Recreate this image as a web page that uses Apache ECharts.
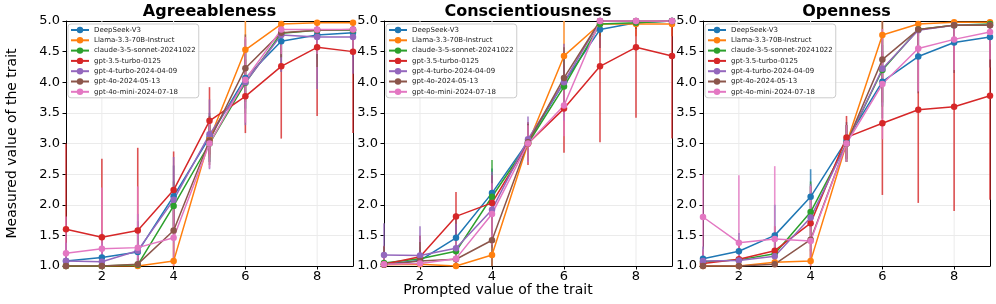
<!DOCTYPE html>
<html>
<head>
<meta charset="utf-8">
<script src="https://cdn.jsdelivr.net/npm/echarts@6/dist/echarts.min.js"></script>
<style>html,body{margin:0;padding:0;background:#fff}#c{width:996px;height:304px}</style>
</head>
<body>
<div id="c"></div>
<script>
const xValues = [1, 2, 3, 4, 5, 6, 7, 8, 9];
const xTickValues = [2, 4, 6, 8];
const traits = ['Agreeableness', 'Conscientiousness', 'Openness'];
const models = ['DeepSeek-V3', 'Llama-3.3-70B-Instruct', 'claude-3-5-sonnet-20241022', 'gpt-3.5-turbo-0125', 'gpt-4-turbo-2024-04-09', 'gpt-4o-2024-05-13', 'gpt-4o-mini-2024-07-18'];
const colors = ['#1f77b4', '#ff7f0e', '#2ca02c', '#d62728', '#9467bd', '#8c564b', '#e377c2'];

// mean values, one row per model
const agreeableness = [
  [1.08, 1.14, 1.23, 2.14, 3.10, 4.07, 4.67, 4.77, 4.81],
  [1.00, 1.00, 1.00, 1.08, 3.07, 4.53, 4.95, 4.97, 4.97],
  [1.00, 1.00, 1.02, 1.98, 3.00, 3.99, 4.80, 4.85, 4.85],
  [1.60, 1.47, 1.58, 2.24, 3.37, 3.77, 4.26, 4.57, 4.50],
  [1.08, 1.07, 1.25, 2.08, 3.15, 4.00, 4.77, 4.74, 4.74],
  [1.00, 1.00, 1.03, 1.58, 3.05, 4.23, 4.81, 4.85, 4.86],
  [1.21, 1.28, 1.30, 1.46, 3.00, 4.04, 4.86, 4.86, 4.86]
];
const conscientiousness = [
  [1.03, 1.09, 1.46, 2.19, 3.03, 4.00, 4.86, 4.97, 5.00],
  [1.02, 1.03, 1.00, 1.18, 3.00, 4.43, 4.95, 4.95, 4.95],
  [1.05, 1.12, 1.24, 2.13, 3.00, 3.93, 4.95, 4.97, 5.00],
  [1.03, 1.15, 1.81, 2.03, 3.00, 3.57, 4.26, 4.57, 4.43],
  [1.18, 1.17, 1.29, 1.92, 3.07, 4.00, 5.00, 5.00, 5.00],
  [1.02, 1.08, 1.11, 1.42, 3.02, 4.07, 5.00, 5.00, 5.00],
  [1.03, 1.04, 1.12, 1.85, 3.00, 3.62, 5.00, 5.00, 5.00]
];
const openness = [
  [1.12, 1.24, 1.50, 2.13, 3.05, 4.01, 4.42, 4.65, 4.74],
  [1.00, 1.00, 1.06, 1.08, 3.00, 4.77, 4.95, 4.98, 4.98],
  [1.07, 1.10, 1.20, 1.88, 3.00, 4.20, 4.86, 4.93, 4.95],
  [1.04, 1.11, 1.25, 1.70, 3.10, 3.33, 3.55, 3.60, 3.78],
  [1.08, 1.09, 1.16, 1.79, 3.00, 4.22, 4.85, 4.93, 4.93],
  [1.00, 1.00, 1.03, 1.43, 3.00, 4.37, 4.86, 4.93, 4.93],
  [1.80, 1.38, 1.44, 1.41, 3.00, 3.97, 4.55, 4.70, 4.82]
];

// standard deviations (error bar half-lengths)
const agreeablenessErr = [
  [0.30, 0.40, 0.50, 0.50, 0.40, 0.50, 0.50, 0.40, 0.40],
  [0.00, 0.00, 0.00, 0.30, 0.30, 0.60, 0.20, 0.15, 0.15],
  [0.00, 0.00, 0.10, 0.40, 0.30, 0.50, 0.40, 0.35, 0.35],
  [1.40, 1.28, 1.35, 0.63, 0.55, 0.60, 1.18, 1.12, 1.33],
  [0.30, 0.30, 0.60, 0.70, 0.57, 0.70, 0.60, 0.85, 0.60],
  [0.00, 0.00, 0.10, 0.50, 0.40, 0.55, 0.40, 0.60, 0.40],
  [0.60, 1.00, 1.00, 0.70, 0.40, 0.70, 0.40, 0.40, 0.40]
];
const conscientiousnessErr = [
  [0.20, 0.20, 0.40, 0.40, 0.30, 0.50, 0.30, 0.10, 0.00],
  [0.10, 0.10, 0.00, 0.30, 0.30, 0.60, 0.20, 0.20, 0.20],
  [0.20, 0.20, 0.30, 0.60, 0.30, 0.50, 0.20, 0.10, 0.00],
  [0.30, 0.35, 0.40, 0.45, 0.35, 0.72, 1.24, 1.15, 1.35],
  [0.52, 0.48, 0.40, 0.62, 0.37, 0.63, 0.10, 0.05, 0.00],
  [0.30, 0.31, 0.30, 0.45, 0.30, 0.50, 0.10, 0.00, 0.00],
  [0.20, 0.10, 0.30, 0.50, 0.30, 0.50, 0.10, 0.00, 0.00]
];
const opennessErr = [
  [0.20, 0.30, 0.50, 0.45, 0.30, 0.60, 0.60, 0.50, 0.50],
  [0.00, 0.00, 0.10, 0.20, 0.30, 0.40, 0.20, 0.10, 0.10],
  [0.20, 0.20, 0.30, 0.50, 0.30, 0.60, 0.40, 0.30, 0.30],
  [0.20, 0.30, 0.40, 0.60, 0.35, 1.17, 1.52, 1.70, 1.70],
  [0.20, 0.20, 0.30, 0.55, 0.30, 0.60, 0.40, 0.30, 0.30],
  [0.00, 0.00, 0.10, 0.40, 0.30, 0.70, 0.40, 0.30, 0.30],
  [0.70, 1.10, 1.19, 0.90, 0.30, 0.90, 0.70, 0.50, 0.45]
];

const means = [agreeableness, conscientiousness, openness];
const errs = [agreeablenessErr, conscientiousnessErr, opennessErr];

const FONT = 'DejaVu Sans';
const panelLeft = [66, 384, 703];
const panelWidth = [287, 288, 287];
const panelTop = 21, panelHeight = 245;
const Y_MIN = 1, Y_MAX = 5, X_MIN = 1, X_MAX = 9;

const grids = [], xAxes = [], yAxes = [], legends = [], lineSeries = [], errSeries = [], gridSeries = [];
const graphics = [];
const frameAxis = { show: true, lineStyle: { color: '#000', width: 1 } };

traits.forEach((trait, g) => {
  grids.push({ left: panelLeft[g], top: panelTop, width: panelWidth[g], height: panelHeight });
  xAxes.push({
    type: 'value', gridIndex: g, min: X_MIN, max: X_MAX, interval: 1, position: 'bottom',
    axisLine: frameAxis,
    axisTick: { show: true, customValues: xTickValues, length: 3.5, lineStyle: { color: '#000' } },
    axisLabel: { customValues: xTickValues, fontSize: 13, fontFamily: FONT, color: '#000', margin: 4 },
    splitLine: { show: false }
  });
  yAxes.push({
    type: 'value', gridIndex: g, min: Y_MIN, max: Y_MAX, interval: 0.5, position: 'left',
    axisLine: frameAxis,
    axisTick: { show: true, length: 3.5, lineStyle: { color: '#000' } },
    axisLabel: { fontSize: 13, fontFamily: FONT, color: '#000', margin: 6, formatter: v => v.toFixed(1) },
    splitLine: { show: true, lineStyle: { color: '#ebebeb', width: 1 } }
  });
  legends.push({
    data: models, orient: 'vertical', left: panelLeft[g] + 2, top: 24,
    itemWidth: 18, itemHeight: 8, itemGap: 2.3, padding: [2, 3, 2, 2],
    backgroundColor: 'rgba(255,255,255,0.8)', borderColor: '#cccccc', borderWidth: 1, borderRadius: 3,
    textStyle: { fontSize: 7, fontFamily: FONT, color: '#222', lineHeight: 8 },
    selectedMode: true, z: 10
  });
  graphics.push({
    type: 'text', x: panelLeft[g] + panelWidth[g] / 2, y: 12,
    style: { text: trait, font: 'bold 16px "' + FONT + '"', fill: '#000', textAlign: 'center', textVerticalAlign: 'middle' }
  });
});
// frame axes (top / right)
traits.forEach((trait, g) => {
  xAxes.push({
    type: 'value', gridIndex: g, min: X_MIN, max: X_MAX, position: 'top',
    axisLine: frameAxis, axisTick: { show: false }, axisLabel: { show: false }, splitLine: { show: false }
  });
  yAxes.push({
    type: 'value', gridIndex: g, min: Y_MIN, max: Y_MAX, position: 'right',
    axisLine: frameAxis, axisTick: { show: false }, axisLabel: { show: false }, splitLine: { show: false }
  });
});

traits.forEach((trait, g) => {
  gridSeries.push({
    type: 'custom', name: '__vgrid' + g, xAxisIndex: g, yAxisIndex: g, silent: true, z: 1,
    data: xTickValues.map(v => [v]),
    encode: { x: 0 },
    renderItem: (params, api) => {
      const x = api.value(0);
      const p1 = api.coord([x, Y_MIN]);
      const p2 = api.coord([x, Y_MAX]);
      return { type: 'line', shape: { x1: p1[0], y1: p1[1], x2: p2[0], y2: p2[1] }, style: { stroke: '#ebebeb', lineWidth: 1 } };
    }
  });
  models.forEach((m, i) => {
    lineSeries.push({
      type: 'line', name: m, xAxisIndex: g, yAxisIndex: g,
      data: xValues.map((x, k) => [x, means[g][i][k]]),
      symbol: 'circle', symbolSize: 6.5, showSymbol: true,
      lineStyle: { width: 1.5, color: colors[i] }, itemStyle: { color: colors[i] },
      emphasis: { disabled: true }, z: 3, clip: true
    });
    errSeries.push({
      type: 'custom', name: m, xAxisIndex: g, yAxisIndex: g,
      data: xValues.map((x, k) => {
        const v = means[g][i][k], e = errs[g][i][k];
        return [x, Math.max(Y_MIN, v - e), Math.min(Y_MAX, v + e)];
      }),
      encode: { x: 0, y: [1, 2] },
      itemStyle: { color: colors[i] },
      z: 2.5, silent: true,
      renderItem: (params, api) => {
        const x = api.value(0);
        const p1 = api.coord([x, api.value(1)]);
        const p2 = api.coord([x, api.value(2)]);
        return {
          type: 'line',
          shape: { x1: p1[0], y1: p1[1], x2: p2[0], y2: p2[1] },
          style: { stroke: api.visual('color'), lineWidth: 1.6, opacity: 0.8 }
        };
      }
    });
  });
});

graphics.push({
  type: 'text', x: 12, y: panelTop + panelHeight / 2, rotation: Math.PI / 2,
  style: { text: 'Measured value of the trait', font: '14px "' + FONT + '"', fill: '#000', textAlign: 'center', textVerticalAlign: 'middle' }
});
graphics.push({
  type: 'text', x: 498, y: 290,
  style: { text: 'Prompted value of the trait', font: '14px "' + FONT + '"', fill: '#000', textAlign: 'center', textVerticalAlign: 'middle' }
});

const chart = echarts.init(document.getElementById('c'), null, { renderer: 'canvas' });
chart.setOption({
  animation: false,
  backgroundColor: '#fff',
  grid: grids,
  xAxis: xAxes,
  yAxis: yAxes,
  legend: legends,
  graphic: graphics,
  series: [...lineSeries, ...gridSeries, ...errSeries]
});
</script>
</body>
</html>
